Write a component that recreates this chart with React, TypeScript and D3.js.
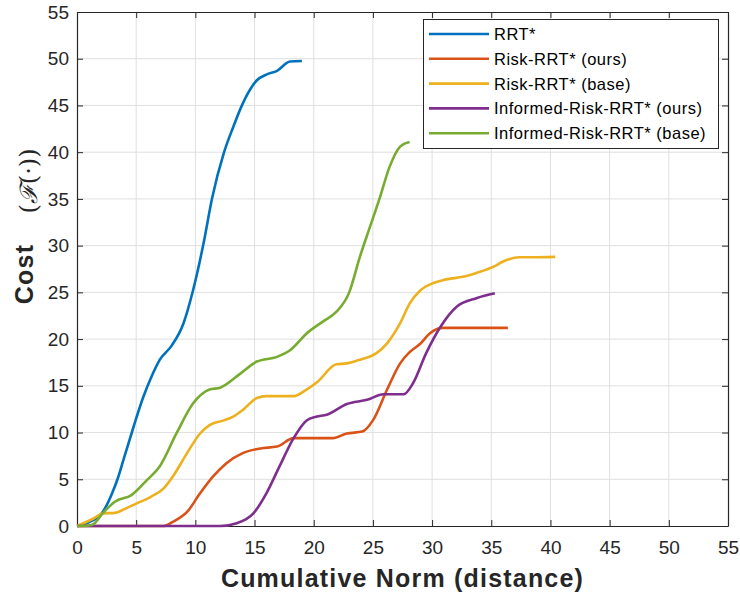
import React, { useRef, useEffect } from "react"
import * as d3 from "d3"

// series: [cumulative norm, cost]
const rrtStar = [[0,0],[1,0.4],[2,1.2],[2.5,2.2],[3,3.6],[3.5,5.3],[4,7.4],[4.8,10.7],[5.6,13.8],[6.3,16],[7,17.8],[8,19.3],[9,21.7],[9.8,25.2],[10.7,30.3],[11.4,35],[12.4,39.9],[13.2,42.7],[14,45.2],[15.2,47.7],[16,48.3],[16.9,48.7],[18,49.7],[19,49.75]]
const riskOurs = [[0,0],[7.3,0],[8.1,0.45],[9.3,1.5],[10.4,3.5],[11.5,5.3],[12.6,6.7],[14,7.8],[15.5,8.3],[16.9,8.5],[18.3,9.4],[21.6,9.4],[22.8,9.9],[24.1,10.1],[25,11.3],[26.2,14.6],[27.3,17.4],[28.1,18.6],[29,19.5],[29.8,20.6],[30.9,21.2],[36.4,21.2]]
const riskBase = [[0,0],[1.4,0.8],[2.2,1.35],[3.2,1.4],[4,1.8],[5,2.4],[6.2,3.1],[7.3,4],[8.1,5.3],[9.3,7.8],[10.4,9.9],[11.2,10.8],[12.4,11.3],[13.2,11.7],[14,12.4],[15.2,13.7],[16,13.9],[18.3,13.9],[19.4,14.6],[20.3,15.4],[21.9,17.3],[22.8,17.4],[23.9,17.8],[25.3,18.5],[26.2,19.55],[27.3,21.7],[28.1,23.8],[29,25.2],[30.1,26],[30.9,26.3],[32.9,26.75],[33.8,27.1],[35.2,27.75],[36,28.3],[37.4,28.75],[38.5,28.75],[40.4,28.8]]
const informedOurs = [[0,0],[12.1,0],[13.5,0.3],[14.9,1.35],[16,3.5],[17.1,6.35],[18.3,9.4],[19.4,11.3],[20.2,11.7],[21.1,11.9],[22.8,13.05],[24.5,13.5],[25.9,14.1],[27.6,14.1],[28.4,15.3],[29.5,18.5],[30.7,21.3],[32.1,23.5],[33.8,24.4],[35.3,24.9]]
const informedBase = [[0,0],[1,0.05],[1.4,0.2],[2.2,1.4],[3.2,2.6],[4.6,3.3],[5.9,4.9],[7,6.4],[8.4,9.9],[9.8,13.1],[11.2,14.6],[12.1,14.8],[13.8,16.3],[15.2,17.6],[16.9,18.1],[18,18.8],[19.4,20.6],[20.8,21.9],[21.9,22.9],[23,25],[23.9,28.8],[24.75,32],[25.6,35.2],[26.4,38.4],[27.3,40.6],[28.1,41.1]]

const seriesNames = ["RRT*", "Risk-RRT* (ours)", "Risk-RRT* (base)", "Informed-Risk-RRT* (ours)", "Informed-Risk-RRT* (base)"]
const seriesData = [rrtStar, riskOurs, riskBase, informedOurs, informedBase]
const colors = ["#0072BD", "#D95319", "#EDB120", "#7E2F8E", "#77AC30"]
const ticks = [0,5,10,15,20,25,30,35,40,45,50,55]

export default function App() {
  const svgRef = useRef(null)

  useEffect(() => {
    const svg = d3.select(svgRef.current)
    svg.selectAll("*").remove()

    const left = 77, right = 728, top = 12, bottom = 526
    const x = d3.scaleLinear().domain([0, 55]).range([left, right])
    const y = d3.scaleLinear().domain([0, 55]).range([bottom, top])
    const axisColor = "#262626"
    const font = "Arial, 'Liberation Sans', Helvetica, sans-serif"

    // grid
    const grid = svg.append("g")
    grid.selectAll("line.gx").data(ticks.slice(1, -1)).enter().append("line")
      .attr("x1", d => x(d)).attr("x2", d => x(d)).attr("y1", top).attr("y2", bottom)
      .attr("stroke", "#dfdfdf").attr("stroke-width", 1)
    grid.selectAll("line.gy").data(ticks.slice(1, -1)).enter().append("line")
      .attr("y1", d => y(d)).attr("y2", d => y(d)).attr("x1", left).attr("x2", right)
      .attr("stroke", "#dfdfdf").attr("stroke-width", 1)

    // axes (ticks inward, on all four sides)
    const tk = 6
    svg.append("g").attr("transform", `translate(0,${bottom})`)
      .call(d3.axisBottom(x).tickValues(ticks).tickSizeInner(-tk).tickSizeOuter(0).tickPadding(15))
    svg.append("g").attr("transform", `translate(0,${top})`)
      .call(d3.axisTop(x).tickValues(ticks).tickSizeInner(-tk).tickSizeOuter(0).tickFormat(() => ""))
    svg.append("g").attr("transform", `translate(${left},0)`)
      .call(d3.axisLeft(y).tickValues(ticks).tickSizeInner(-tk).tickSizeOuter(0).tickPadding(8))
    svg.append("g").attr("transform", `translate(${right},0)`)
      .call(d3.axisRight(y).tickValues(ticks).tickSizeInner(-tk).tickSizeOuter(0).tickFormat(() => ""))

    svg.selectAll(".domain").attr("stroke", axisColor).attr("stroke-width", 1.2)
    svg.selectAll(".tick line").attr("stroke", axisColor)
    svg.selectAll(".tick text").attr("fill", axisColor).style("font-size", "19px").style("font-family", font)

    // lines
    const line = d3.line().x(d => x(d[0])).y(d => y(d[1])).curve(d3.curveMonotoneX)
    seriesData.forEach((s, i) => {
      svg.append("path").datum(s)
        .attr("d", line)
        .attr("fill", "none")
        .attr("stroke", colors[i])
        .attr("stroke-width", 2.6)
    })

    // legend
    const lg = svg.append("g")
    lg.append("rect").attr("x", 423.5).attr("y", 19.5).attr("width", 295).attr("height", 129)
      .attr("fill", "white").attr("stroke", axisColor).attr("stroke-width", 1)
    seriesNames.forEach((n, i) => {
      const yy = 34 + i * 24.8
      lg.append("line").attr("x1", 429).attr("x2", 489).attr("y1", yy).attr("y2", yy)
        .attr("stroke", colors[i]).attr("stroke-width", 2.6)
      lg.append("text").attr("x", 494).attr("y", yy).attr("dy", "0.36em")
        .attr("fill", "black").style("font-size", "16.5px").style("letter-spacing", "0.5px")
        .style("font-family", font).text(n)
    })

    // axis titles
    svg.append("text").attr("x", (left + right) / 2).attr("y", 587)
      .attr("text-anchor", "middle").attr("fill", axisColor)
      .style("font-size", "25px").style("font-weight", "bold").style("letter-spacing", "1.2px")
      .style("font-family", font)
      .text("Cumulative Norm (distance)")

    svg.append("text").attr("transform", "translate(33,274) rotate(-90)")
      .attr("text-anchor", "middle").attr("fill", axisColor)
      .style("font-size", "25px").style("font-weight", "bold").style("letter-spacing", "1.2px")
      .style("font-family", font).text("Cost")

    const ml = svg.append("text").attr("transform", "translate(37,181) rotate(-90)")
      .attr("text-anchor", "middle").attr("fill", axisColor)
      .style("font-family", "'DejaVu Serif', serif").style("font-size", "24px")
    ml.append("tspan").text("(")
    ml.append("tspan").style("font-style", "italic").text("\u2131")
    ml.append("tspan").text("(\u00b7))")
  }, [])

  return (
    <svg ref={svgRef} width={740} height={599}
      style={{ position: "absolute", left: 0, top: 0, background: "white" }} />
  )
}
